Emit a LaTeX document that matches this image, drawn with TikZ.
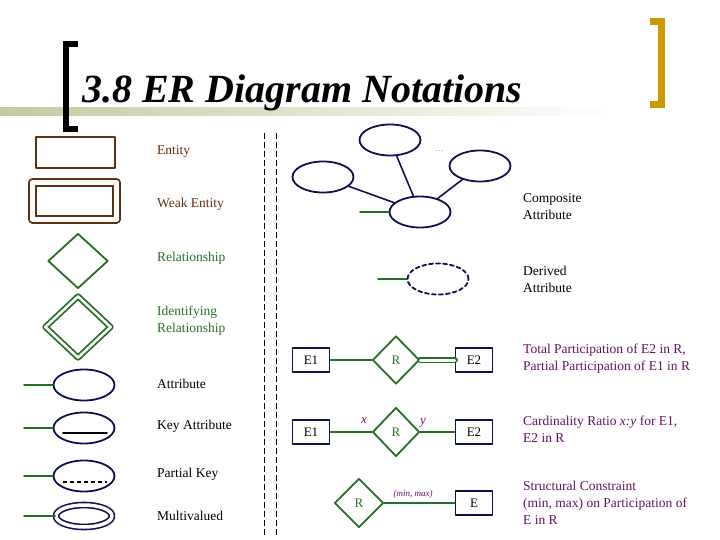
\documentclass[tikz,border=0pt]{standalone}
\usepackage{fontspec}
\setmainfont{Liberation Serif}
\usetikzlibrary{shapes.geometric}
\definecolor{erbrown}{RGB}{96,48,16}
\definecolor{ergreen}{RGB}{40,110,40}
\definecolor{ernavy}{RGB}{16,16,80}
\definecolor{erpurple}{RGB}{96,20,96}
\definecolor{ergold}{RGB}{204,153,0}
\definecolor{erbar}{RGB}{200,200,160}
\tikzset{
  lbl/.style={anchor=west, align=left, inner sep=0pt, font=\fontsize{13.5}{17}\selectfont},
  entity/.style={draw=erbrown, line width=1.8pt, rectangle, inner sep=0pt, minimum width=79pt, minimum height=31pt},
  weakentity/.style={draw=erbrown, line width=1.8pt, double, double distance=4.5pt, rectangle, inner sep=0pt, minimum width=84pt, minimum height=37pt},
  relation/.style={draw=ergreen, line width=1.8pt, diamond, inner sep=0pt, text=ergreen, font=\fontsize{13}{15}\selectfont},
  identrel/.style={relation, line width=1.8pt, double, double distance=2.5pt},
  attr/.style={draw=ernavy, line width=1.8pt, ellipse, inner sep=0pt, minimum width=61pt, minimum height=31pt},
  multiattr/.style={attr, line width=1.6pt, double, double distance=3.5pt, minimum width=56pt, minimum height=22pt},
  ent/.style={draw=ernavy, line width=1.8pt, rectangle, inner sep=0pt, minimum width=37pt, minimum height=24pt, font=\fontsize{13}{15}\selectfont},
  link/.style={draw=ergreen, line width=1.8pt},
  comp/.style={draw=ernavy, line width=1.6pt},
  card/.style={text=erpurple, inner sep=0pt, font=\itshape\fontsize{13}{15}\selectfont}
}
\begin{document}
\begin{tikzpicture}[line cap=round,line join=round,x=1pt,y=-1pt]
\useasboundingbox (0,0) rectangle (720,540);
% title bar and brackets
\shade[left color=erbar, middle color=erbar!85!white, right color=white] (0,108) rectangle (620,116);
\draw[line width=6pt, line cap=butt, line join=miter] (78,44) -- (66,44) -- (66,129) -- (78,129);
\draw[ergold, line width=7pt, line cap=butt, line join=miter] (650,21.5) -- (661.5,21.5) -- (661.5,104.5) -- (650,104.5);
\node[anchor=base west, inner sep=0pt, font=\bfseries\itshape\fontsize{40}{45}\selectfont] (title) at (82,103) {3.8 ER Diagram Notations};
% separator
\draw[dashed, dash pattern=on 6pt off 3pt, line width=0.8pt, line cap=butt] (264,133) -- (264,535);
\draw[dashed, dash pattern=on 6pt off 3pt, line width=0.8pt, line cap=butt] (276,133) -- (276,535);

% left column
\node[entity] (ent) at (75.5,152.5) {};
\node[lbl, text=erbrown] (entl) at (157,151) {Entity};
\node[weakentity] (weak) at (74.5,201) {};
\node[lbl, text=erbrown] (weakl) at (157,204) {Weak Entity};
\node[relation, minimum width=60pt, minimum height=55pt] (rel) at (78,261) {};
\node[lbl, text=ergreen] (rell) at (157,258) {Relationship};
\node[identrel, minimum width=66pt, minimum height=62pt] (idrel) at (78,327) {};
\node[lbl, text=ergreen] (idrell) at (157,321) {Identifying\\Relationship};

\node[attr] (at) at (84,385) {};
\coordinate (atx) at (24,385);
\draw[link] (atx) -- (at.west);
\node[lbl] (atl) at (157,384) {Attribute};

\node[attr] (key) at (84,428) {};
\coordinate (keyx) at (24,428);
\draw[link] (keyx) -- (key.west);
\draw[line width=1.6pt] (63,433) -- (107,433);
\node[lbl] (keyl) at (157,426) {Key Attribute};

\node[attr] (pkey) at (84,476) {};
\coordinate (pkeyx) at (24,476);
\draw[link] (pkeyx) -- (pkey.west);
\draw[line width=1.6pt, dashed, dash pattern=on 4pt off 3pt, line cap=butt] (63,482) -- (107,482);
\node[lbl] (pkeyl) at (157,474) {Partial Key};

\node[multiattr] (multi) at (84,516) {};
\coordinate (multix) at (24,516);
\draw[link] (multix) -- (multi.west);
\node[lbl] (multil) at (157,516) {Multivalued};

% composite attribute
\node[attr] (ctop) at (390,140) {};
\node[attr] (cleft) at (323,177) {};
\node[attr] (cright) at (480,166) {};
\node[attr] (cmid) at (420,212) {};
\node[text=gray, inner sep=0pt, font=\small] (cdots) at (439,151) {\dots};
\draw[comp] (ctop) -- (cmid);
\draw[comp] (cleft) -- (cmid);
\draw[comp] (cright) -- (cmid);
\coordinate (cmidx) at (360,212);
\draw[link] (cmidx) -- (cmid.west);
\node[lbl] (compl) at (523,206.5) {Composite\\Attribute};

% derived attribute
\node[attr, dashed, dash pattern=on 4pt off 3pt] (der) at (438,279) {};
\coordinate (derx) at (378,279);
\draw[link] (derx) -- (der.west);
\node[lbl] (derl) at (523,279.5) {Derived\\Attribute};

% participation
\node[ent] (ea) at (311,360) {E1};
\node[relation, minimum width=47pt, minimum height=48pt] (ra) at (396,360) {R};
\node[ent] (eb) at (474,360) {E2};
\draw[link] (ea) -- (ra);
\draw[link, line width=1.8pt, double, double distance=3pt] (ra) -- (eb);
\node[lbl, text=erpurple] (partl) at (523,358.5) {Total Participation of E2 in R,\\Partial Participation of E1 in R};

% cardinality
\node[ent] (ec) at (311,432) {E1};
\node[relation, minimum width=47pt, minimum height=49pt] (rc) at (396,432) {R};
\node[ent] (ed) at (474,432) {E2};
\draw[link] (ec) -- (rc);
\draw[link] (rc) -- (ed);
\node[card] (cx) at (364,421) {x};
\node[card] (cy) at (423,423) {y};
\node[lbl, text=erpurple] (cardl) at (523,429) {Cardinality Ratio \textit{x:y} for E1,\\E2 in R};

% structural constraint
\node[relation, minimum width=49pt, minimum height=49pt] (rs) at (359,503) {R};
\node[ent] (es) at (474,503) {E};
\draw[link] (rs) -- (es);
\node[card, font=\itshape\fontsize{9}{11}\selectfont] (mm) at (413,494) {(min, max)};
\node[lbl, text=erpurple] (strl) at (523,503) {Structural Constraint\\(min, max) on Participation of\\E in R};
\end{tikzpicture}
\end{document}
